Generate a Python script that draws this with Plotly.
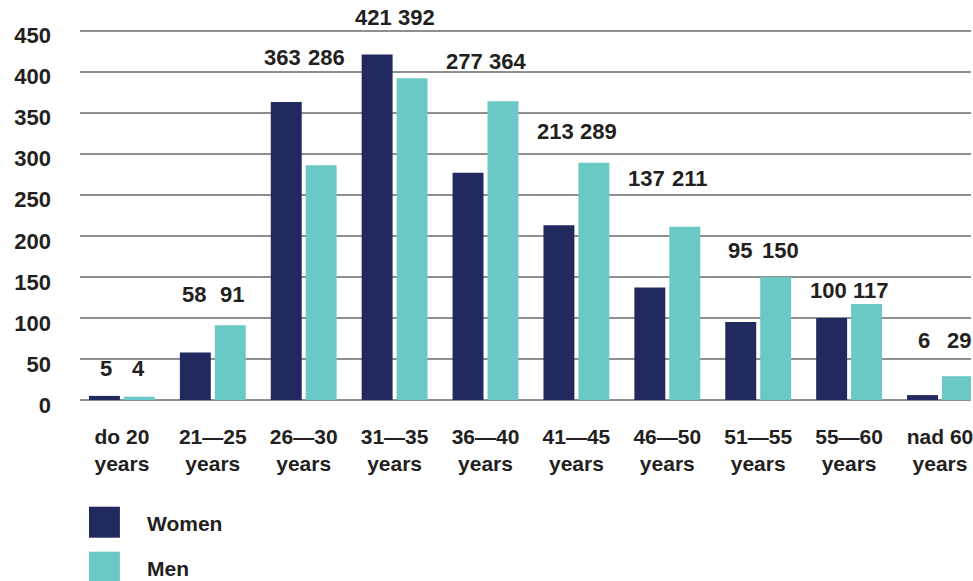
import plotly.graph_objects as go

# ---- data ----
categories = ["do 20<br>years", "21—25<br>years", "26—30<br>years", "31—35<br>years",
              "36—40<br>years", "41—45<br>years", "46—50<br>years", "51—55<br>years",
              "55—60<br>years", "nad 60<br>years"]
women = [5, 58, 363, 421, 277, 213, 137, 95, 100, 6]
men = [4, 91, 286, 392, 364, 289, 211, 150, 117, 29]
series_names = ["Women", "Men"]
# vertical position (in axis units) of each group's value labels
label_y = [38, 128, 417, 466, 412, 327, 270, 182, 134, 73]
y_ticks = [0, 50, 100, 150, 200, 250, 300, 350, 400, 450]

NAVY = "#22295f"
TEAL = "#6ac9c4"
TXT = "#231f20"
FONT = "Liberation Sans, Arial, sans-serif"

W, H = 973, 581
ML, MR, MT, MB = 80, 0, 6, 181
PW, PH = W - ML - MR, H - MT - MB

x_idx = list(range(len(categories)))

fig = go.Figure()
fig.add_trace(go.Bar(x=x_idx, y=women, name=series_names[0], marker_color=NAVY,
                     marker_line_width=0, showlegend=False))
fig.add_trace(go.Bar(x=x_idx, y=men, name=series_names[1], marker_color=TEAL,
                     marker_line_width=0, showlegend=False))

annotations = []
for i in x_idx:
    for val, sgn, off in ((women[i], -1, -0.18), (men[i], 1, 0.18)):
        n = len(str(val))
        shift = sgn * (n - 1) * (2.2 if sgn < 0 else 3.0)
        annotations.append(dict(x=i + off, y=label_y[i], xref="x", yref="y",
                                text="<b>%d</b>" % val, showarrow=False, xshift=shift,
                                font=dict(family=FONT, size=22, color=TXT),
                                xanchor="center", yanchor="middle"))

def px2paper(px, py):
    return (px - ML) / PW, (H - MB - py) / PH

shapes = []
for k, (col, top) in enumerate(((NAVY, 506.7), (TEAL, 551.7))):
    x0, y0 = px2paper(89, top)
    x1, y1 = px2paper(120, top + 31)
    shapes.append(dict(type="rect", xref="paper", yref="paper", x0=x0, x1=x1,
                       y0=y1, y1=y0, fillcolor=col, line_width=0, layer="above"))
    tx, ty = px2paper(145, top + 16.5)
    annotations.append(dict(x=tx, y=ty, xref="paper", yref="paper",
                            text="<b>%s</b>" % series_names[k], showarrow=False,
                            xanchor="left", yanchor="middle",
                            font=dict(family=FONT, size=21, color=TXT)))

fig.update_layout(
    width=W, height=H,
    margin=dict(l=ML, r=MR, t=MT, b=MB, pad=0),
    plot_bgcolor="white", paper_bgcolor="white",
    barmode="group", bargap=0.2316, bargroupgap=0.114,
    font=dict(family=FONT, color=TXT),
    annotations=annotations, shapes=shapes,
    xaxis=dict(tickmode="array", tickvals=x_idx,
               ticktext=["<b>%s</b>" % c for c in categories],
               range=[-0.461, 9.341], showgrid=False, zeroline=False,
               showline=False, ticks="", ticklabelstandoff=22,
               ticklabeloverflow="allow",
               tickfont=dict(family=FONT, size=21, color=TXT)),
    yaxis=dict(range=[0, 480], tickmode="array", tickvals=y_ticks,
               ticktext=["<b>%d</b>" % v for v in y_ticks],
               showgrid=True, gridcolor="#8f8f8f", gridwidth=1.5,
               zeroline=True, zerolinecolor="#8f8f8f", zerolinewidth=1.5,
               showline=False, ticks="", ticklabelstandoff=28, ticklabelshift=5,
               tickfont=dict(family=FONT, size=22, color=TXT)),
)

fig.write_html("out.html")
